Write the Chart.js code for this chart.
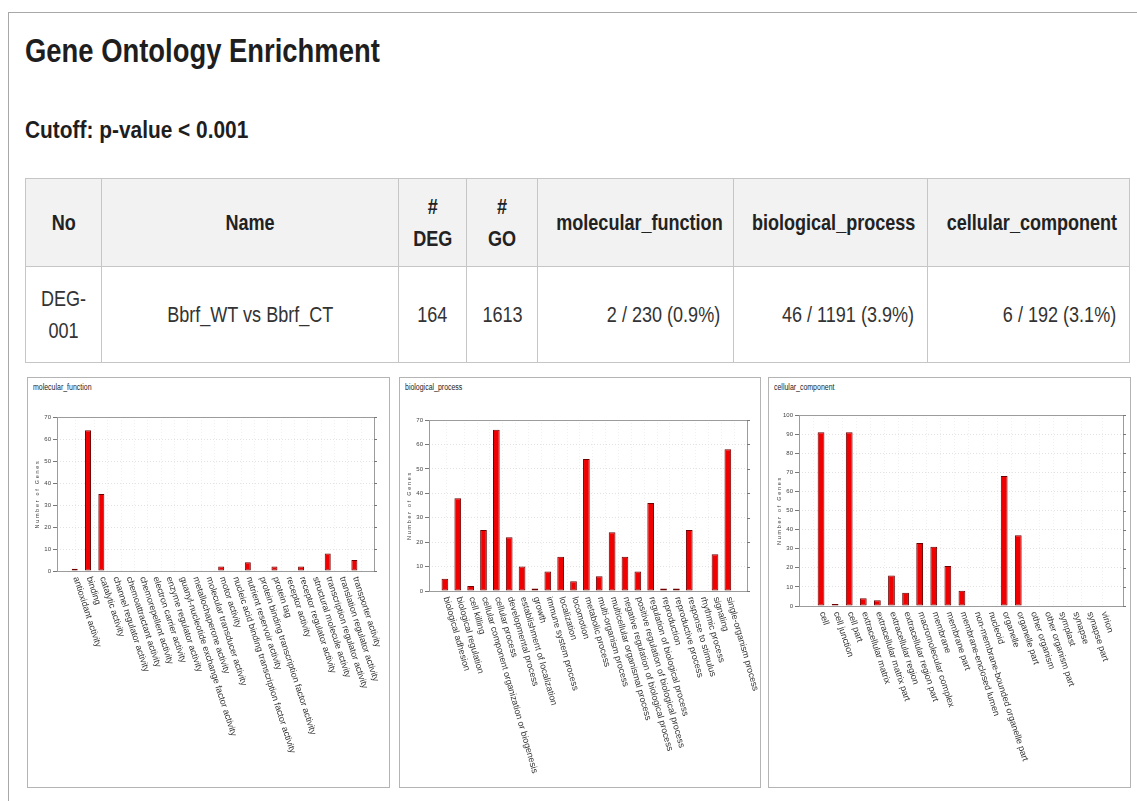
<!DOCTYPE html>
<html>
<head>
<meta charset="utf-8">
<title>Gene Ontology Enrichment</title>
<script src="https://cdn.jsdelivr.net/npm/chart.js@4.4.1/dist/chart.umd.min.js"></script>
<style>
  html, body { margin: 0; padding: 0; background: #fff; }
  body { width: 1137px; height: 801px; position: relative; overflow: hidden;
         font-family: 'Liberation Sans', Arial, sans-serif; color: #1e1e1e; }
  .frame { position: absolute; left: 8px; top: 12px; width: 1160px; height: 820px;
           border-left: 1px solid #a8a8a8; border-top: 1px solid #a8a8a8; }
  /* condensed look: Liberation Sans squeezed horizontally */
  .nw { display: inline-block; transform: scaleX(0.82); white-space: nowrap; }
  h1 { position: absolute; left: 25px; top: 30px; margin: 0; font-size: 34px; font-weight: bold; line-height: 40px; }
  h1 .nw { transform: scaleX(0.806); transform-origin: left center; }
  h2 { position: absolute; left: 25px; top: 115px; margin: 0; font-size: 24px; font-weight: bold; line-height: 30px; }
  h2 .nw { transform: scaleX(0.87); transform-origin: left center; }
  table { position: absolute; left: 25px; top: 178px; border-collapse: collapse; table-layout: fixed; width: 1104px; }
  th, td { border: 1px solid #c6c6c6; font-size: 22px; padding: 0; line-height: 32px; }
  th { background: #f2f2f2; height: 87px; font-weight: bold; color: #222; }
  td { height: 95px; color: #333; text-align: center; }
  td.num { text-align: right; padding-right: 13px; }
  td.num .nw { transform-origin: right center; }
  .panel { position: absolute; top: 377px; height: 409px; border: 1px solid #b4b4b4; }
  .panel .ttl { position: absolute; left: 5px; top: 4px; font-size: 8.5px; color: #222; }
  .panel .ttl .nw { transform-origin: left center; }
  .panel canvas { position: absolute; left: 0; top: 0; }
</style>
</head>
<body>
<div class="frame"></div>
<h1><span class="nw">Gene Ontology Enrichment</span></h1>
<h2><span class="nw">Cutoff: p-value &lt; 0.001</span></h2>
<table>
  <colgroup>
    <col style="width:76px"><col style="width:297px"><col style="width:68px"><col style="width:71px">
    <col style="width:196px"><col style="width:194px"><col style="width:202px">
  </colgroup>
  <tr>
    <th><span class="nw">No</span></th><th><span class="nw">Name</span></th>
    <th><span class="nw">#<br>DEG</span></th><th><span class="nw">#<br>GO</span></th>
    <th><span class="nw">molecular_function</span></th><th><span class="nw">biological_process</span></th>
    <th><span class="nw">cellular_component</span></th>
  </tr>
  <tr>
    <td><span class="nw">DEG-<br>001</span></td><td><span class="nw">Bbrf_WT vs Bbrf_CT</span></td>
    <td><span class="nw">164</span></td><td><span class="nw">1613</span></td>
    <td class="num"><span class="nw">2 / 230 (0.9%)</span></td>
    <td class="num"><span class="nw">46 / 1191 (3.9%)</span></td>
    <td class="num"><span class="nw">6 / 192 (3.1%)</span></td>
  </tr>
</table>

<div class="panel" style="left:27px;width:361px;"><div class="ttl"><span class="nw">molecular_function</span></div><canvas id="mf" width="361" height="409"></canvas></div>
<div class="panel" style="left:399px;width:360px;"><div class="ttl"><span class="nw">biological_process</span></div><canvas id="bp" width="360" height="409"></canvas></div>
<div class="panel" style="left:768px;width:361px;"><div class="ttl"><span class="nw">cellular_component</span></div><canvas id="cc" width="361" height="409"></canvas></div>

<script>
// ---- molecular_function ----
const mfTerms = [
  'antioxidant activity', 'binding', 'catalytic activity', 'channel regulator activity',
  'chemoattractant activity', 'chemorepellent activity', 'electron carrier activity',
  'enzyme regulator activity', 'guanyl-nucleotide exchange factor activity',
  'metallochaperone activity', 'molecular transducer activity', 'motor activity',
  'nucleic acid binding transcription factor activity', 'nutrient reservoir activity',
  'protein binding transcription factor activity', 'protein tag', 'receptor activity',
  'receptor regulator activity', 'structural molecule activity',
  'transcription regulator activity', 'translation regulator activity', 'transporter activity'
];
const mfGenes = [1, 64, 35, 0, 0, 0, 0, 0, 0, 0, 0, 2, 0, 4, 0, 2, 0, 2, 0, 8, 0, 5];
const mfTicks = [0, 10, 20, 30, 40, 50, 60, 70];

// ---- biological_process ----
const bpTerms = [
  'biological adhesion', 'biological regulation', 'cell killing',
  'cellular component organization or biogenesis', 'cellular process',
  'developmental process', 'establishment of localization', 'growth',
  'immune system process', 'localization', 'locomotion', 'metabolic process',
  'multi-organism process', 'multicellular organismal process',
  'negative regulation of biological process', 'positive regulation of biological process',
  'regulation of biological process', 'reproduction', 'reproductive process',
  'response to stimulus', 'rhythmic process', 'signaling', 'single-organism process'
];
const bpGenes = [5, 38, 2, 25, 66, 22, 10, 1, 8, 14, 4, 54, 6, 24, 14, 8, 36, 1, 1, 25, 0, 15, 58];
const bpTicks = [0, 10, 20, 30, 40, 50, 60, 70];

// ---- cellular_component ----
const ccTerms = [
  'cell', 'cell junction', 'cell part', 'extracellular matrix', 'extracellular matrix part',
  'extracellular region', 'extracellular region part', 'macromolecular complex',
  'membrane', 'membrane part', 'membrane-enclosed lumen',
  'non-membrane-bounded organelle part', 'nucleoid', 'organelle', 'organelle part',
  'other organism', 'other organism part', 'symplast', 'synapse', 'synapse part', 'virion'
];
const ccGenes = [91, 1, 91, 4, 3, 16, 7, 33, 31, 21, 8, 0, 0, 68, 37, 0, 0, 0, 0, 0, 0];
const ccTicks = [0, 10, 20, 30, 40, 50, 60, 70, 80, 90, 100];

const AXIS_TITLE = 'Number of Genes';

// Draws the plot frame, right-side tick marks, slanted category names and the y title.
const goPlot = {
  id: 'goPlot',
  afterDraw(chart, args, opts) {
    const { ctx, chartArea: a, scales: { x, y } } = chart;
    ctx.save();
    ctx.strokeStyle = '#9c9c9c';
    ctx.lineWidth = 1;
    ctx.strokeRect(Math.round(a.left) + 0.5, Math.round(a.top) + 0.5,
                   Math.round(a.width) - 1, Math.round(a.height));
    ctx.strokeStyle = '#777';
    opts.ticks.forEach(v => {
      const py = Math.round(y.getPixelForValue(v)) + 0.5;
      ctx.beginPath();
      ctx.moveTo(a.right - 1, py);
      ctx.lineTo(a.right + 2, py);
      ctx.stroke();
    });
    ctx.fillStyle = '#333';
    ctx.font = '9px "Liberation Sans", sans-serif';
    ctx.textAlign = 'left';
    ctx.textBaseline = 'middle';
    opts.labels.forEach((lab, i) => {
      const px = x.getPixelForValue(i);
      ctx.save();
      ctx.translate(px + 1, a.bottom + 6);
      ctx.rotate(opts.angle * Math.PI / 180);
      ctx.fillText(lab, 0, 0);
      ctx.restore();
    });
    ctx.save();
    ctx.translate(opts.titleX, (a.top + a.bottom) / 2);
    ctx.rotate(-Math.PI / 2);
    ctx.font = '5.5px "Liberation Sans", sans-serif';
    ctx.letterSpacing = '1.7px';
    ctx.textAlign = 'center';
    ctx.textBaseline = 'middle';
    ctx.fillStyle = '#444';
    ctx.fillText(AXIS_TITLE, 0, 0);
    ctx.restore();
    ctx.restore();
  }
};

function goChart(id, terms, genes, ticks, geo) {
  const points = genes.map((v, i) => ({ x: i, y: v }));
  return new Chart(document.getElementById(id), {
    type: 'bar',
    data: {
      datasets: [{
        data: points,
        backgroundColor: '#f00000',
        borderColor: '#6e0000',
        borderWidth: 1,
        borderSkipped: false,
        barPercentage: geo.bar,
        categoryPercentage: 1
      }]
    },
    options: {
      responsive: false,
      animation: false,
      events: [],
      layout: { padding: { left: 0, top: geo.top, right: geo.right, bottom: geo.bottom } },
      plugins: {
        legend: { display: false },
        tooltip: { enabled: false },
        goPlot: { labels: terms, ticks: ticks, angle: geo.angle, titleX: geo.titleX }
      },
      scales: {
        x: {
          type: 'linear',
          min: geo.xmin,
          max: geo.xmax,
          ticks: { display: false, stepSize: 1 },
          grid: { color: '#f0f0f0', drawTicks: false },
          border: { display: false, dash: [1, 2] },
          afterFit: s => { s.height = 0; }
        },
        y: {
          min: 0,
          max: ticks[ticks.length - 1],
          afterBuildTicks: s => { s.ticks = ticks.map(v => ({ value: v })); },
          ticks: { font: { size: 6, family: 'Liberation Sans' }, color: '#444', padding: 2 },
          grid: { color: '#e2e2e2', tickColor: '#777', tickLength: 4 },
          border: { display: false, dash: [1, 2] },
          afterFit: s => { s.width = geo.yw; }
        }
      }
    },
    plugins: [goPlot]
  });
}

goChart('mf', mfTerms, mfGenes, mfTicks,
  { top: 39, right: 14, bottom: 216, yw: 29, xmin: -0.81, xmax: 22.03, bar: 0.45, angle: 72, titleX: 9 });
goChart('bp', bpTerms, bpGenes, bpTicks,
  { top: 42, right: 12, bottom: 196, yw: 29, xmin: -0.72, xmax: 23.05, bar: 0.52, angle: 74, titleX: 9 });
goChart('cc', ccTerms, ccGenes, ccTicks,
  { top: 37, right: 6, bottom: 181, yw: 30, xmin: -1.04, xmax: 20.98, bar: 0.48, angle: 72, titleX: 10 });
</script>
</body>
</html>
